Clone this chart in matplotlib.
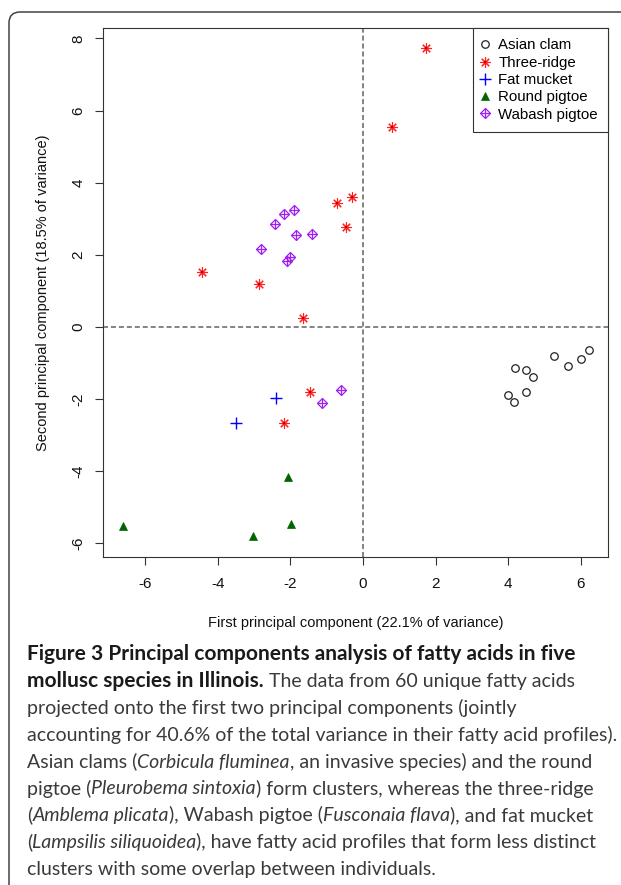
import matplotlib
matplotlib.use("Agg")
import matplotlib.pyplot as plt
from matplotlib.lines import Line2D
from matplotlib.patches import FancyBboxPatch

# PCA scores
asian_x = [4.20, 4.48, 4.69, 5.25, 5.66, 6.00, 6.23, 3.99, 4.15, 4.49]
asian_y = [-1.13, -1.20, -1.40, -0.81, -1.08, -0.89, -0.64, -1.88, -2.08, -1.79]
three_x = [1.75, 0.80, -0.30, -0.70, -0.46, -4.44, -2.87, -1.64, -1.46, -2.18]
three_y = [7.74, 5.53, 3.61, 3.43, 2.78, 1.52, 1.19, 0.26, -1.81, -2.67]
fat_x = [-2.40, -3.49]
fat_y = [-1.98, -2.66]
round_x = [-2.07, -6.62, -3.04, -1.98]
round_y = [-4.15, -5.51, -5.80, -5.47]
wabash_x = [-1.91, -2.17, -2.42, -1.83, -1.41, -2.80, -2.00, -2.08, -0.61, -1.14]
wabash_y = [3.24, 3.12, 2.85, 2.55, 2.59, 2.16, 1.95, 1.84, -1.75, -2.10]

species = ["Asian clam", "Three-ridge", "Fat mucket", "Round pigtoe", "Wabash pigtoe"]
xticks = [-6, -4, -2, 0, 2, 4, 6]
yticks = [-6, -4, -2, 0, 2, 4, 6, 8]

plt.rcParams['font.family'] = ['Liberation Sans', 'DejaVu Sans']

W, H = 621, 885
fig = plt.figure(figsize=(W / 100, H / 100), dpi=100)

# background axes in pixel coords for frame + caption
bg = fig.add_axes([0, 0, 1, 1], zorder=0)
bg.set_xlim(0, W)
bg.set_ylim(H, 0)
bg.axis('off')
bg.add_patch(FancyBboxPatch((9, 12), 700, 900, boxstyle='round,pad=0,rounding_size=11',
                            fc='none', ec='#444444', lw=1.1))

ax = fig.add_axes([103.3 / W, 1 - 556.7 / H, (608 - 103.3) / W, (556.7 - 28.3) / H], zorder=2)
ax.set_xlim(-7.15, 6.75)
ax.set_ylim(-6.37, 8.28)

ax.axvline(0, color='#7a7a7a', lw=1.3, ls=(0, (2.8, 1.6)), zorder=1)
ax.axhline(0, color='#7a7a7a', lw=1.3, ls=(0, (2.8, 1.6)), zorder=1)

ax.plot(asian_x, asian_y, 'o', ms=5.4, mfc='none', mec='#222222', mew=0.9, ls='none')
ax.plot(three_x, three_y, ls='none', marker=(8, 2, 0), ms=7.5, mec='#ff2020', mew=0.8)
ax.plot(three_x, three_y, ls='none', marker='s', ms=2.0, mfc='#c00000', mec='#c00000', mew=0)
ax.plot(fat_x, fat_y, '+', ms=8, mec='blue', mew=1.0, ls='none')
ax.plot(round_x, round_y, '^', ms=6.2, mfc='#006400', mec='#006400', mew=0.5, ls='none')
ax.plot(wabash_x, wabash_y, 'D', ms=5.6, mfc='none', mec='#a020f0', mew=0.9, ls='none')
ax.plot(wabash_x, wabash_y, '+', ms=7.2, mec='#a020f0', mew=0.9, ls='none')

ax.set_xticks(xticks)
ax.set_yticks(yticks)
ax.set_xticklabels([str(v) for v in xticks])
ax.set_yticklabels([str(v) for v in yticks], rotation=90, va='center')
ax.tick_params(direction='out', length=6, width=0.8, color='#333333', labelsize=11,
               labelcolor='#111111')
ax.tick_params(axis='x', pad=8.5)
ax.tick_params(axis='y', pad=7)
for s in ax.spines.values():
    s.set_color('#333333')
    s.set_linewidth(0.8)

ax.set_xlabel('First principal component (22.1% of variance)', fontsize=10.5, va='center',
              color='#111111')
ax.xaxis.set_label_coords(0.5, -0.1255)
ax.set_ylabel('Second principal component (18.5% of variance)', fontsize=10.5, va='center',
              color='#111111')
ax.yaxis.set_label_coords(-0.1185, 0.5)

h_asian = Line2D([], [], ls='none', marker='o', ms=5.4, mfc='none', mec='#222222', mew=0.9)
h_three = (Line2D([], [], ls='none', marker=(8, 2, 0), ms=7.5, mec='#ff2020', mew=0.8),
           Line2D([], [], ls='none', marker='s', ms=2.0, mfc='#c00000', mec='#c00000', mew=0))
h_fat = Line2D([], [], ls='none', marker='+', ms=8, mec='blue', mew=1.0)
h_round = Line2D([], [], ls='none', marker='^', ms=6.2, mfc='#006400', mec='#006400', mew=0.5)
h_wab = (Line2D([], [], ls='none', marker='D', ms=5.6, mfc='none', mec='#a020f0', mew=0.9),
         Line2D([], [], ls='none', marker='+', ms=7.2, mec='#a020f0', mew=0.9))
leg = ax.legend([h_asian, h_three, h_fat, h_round, h_wab], species, loc='upper right',
                borderaxespad=0, fancybox=False, framealpha=1, edgecolor='#333333',
                fontsize=10.8, handlelength=0.25, handletextpad=0.75, labelspacing=0.22,
                borderpad=0.68)
leg.get_frame().set_linewidth(0.8)

# caption, drawn run by run so bold / italic parts can sit inline
cap_font = ['Lato', 'DejaVu Sans']
lines = [
    [("Figure 3 Principal components analysis of fatty acids in five", 'b')],
    [("mollusc species in Illinois.", 'b'), (" The data from 60 unique fatty acids", 'n')],
    [("projected onto the first two principal components (jointly", 'n')],
    [("accounting for 40.6% of the total variance in their fatty acid profiles).", 'n')],
    [("Asian clams (", 'n'), ("Corbicula fluminea", 'i'), (", an invasive species) and the round", 'n')],
    [("pigtoe (", 'n'), ("Pleurobema sintoxia", 'i'), (") form clusters, whereas the three-ridge", 'n')],
    [("(", 'n'), ("Amblema plicata", 'i'), ("), Wabash pigtoe (", 'n'), ("Fusconaia flava", 'i'),
     ("), and fat mucket", 'n')],
    [("(", 'n'), ("Lampsilis siliquoidea", 'i'), ("), have fatty acid profiles that form less distinct", 'n')],
    [("clusters with some overlap between individuals.", 'n')],
]
styles = {'b': dict(weight='bold', style='normal', color='#1a1a1a'),
          'n': dict(weight='normal', style='normal', color='#3a3a3a'),
          'i': dict(weight='normal', style='italic', color='#3a3a3a')}
size_scale = {'b': 1.07, 'n': 1.0, 'i': 1.0}

renderer = fig.canvas.get_renderer()


def advance(txt, st, size):
    a = bg.text(0, 0, txt + '|', fontsize=size, family=cap_font, **styles[st])
    b = bg.text(0, 0, '|', fontsize=size, family=cap_font, **styles[st])
    w = a.get_window_extent(renderer).width - b.get_window_extent(renderer).width
    a.remove()
    b.remove()
    return w


ref_w = advance(lines[3][0][0], 'n', 10)
cap_size = 10 * 590 / ref_w

y0 = 660
for i, parts in enumerate(lines):
    x = 27
    for txt, st in parts:
        fs = cap_size * size_scale[st]
        bg.text(x, y0 + 26.9 * i, txt, fontsize=fs, family=cap_font, va='baseline',
                ha='left', **styles[st])
        x += advance(txt, st, fs)

fig.savefig('out.png', dpi=100)
